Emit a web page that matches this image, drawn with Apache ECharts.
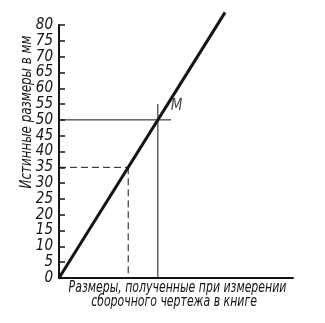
<!DOCTYPE html>
<html>
<head>
<meta charset="utf-8">
<script src="https://cdn.jsdelivr.net/npm/echarts@6/dist/echarts.min.js"></script>
<style>
  html, body { margin: 0; padding: 0; background: #fff; }
  #chart { width: 325px; height: 323px; }
</style>
</head>
<body>
<div id="chart"></div>
<script>
// True size (mm) against size measured on the assembly drawing
const yMin = 0;
const yMax = 80;
const yStep = 5;
const xMax = 71;

const mainLine = [[0, 0], [50.4, 84]];
const pointM = [[30, 50]];
const guideH = [[0, 50], [34, 50]];
const guideV = [[30, 0], [30, 55]];
const dashH = [[0, 35], [21, 35]];
const dashV = [[21, 35], [21, 0]];

const yTitle = 'Истинные размеры в мм';
const xTitle1 = 'Размеры, полученные при измерении';
const xTitle2 = 'сборочного чертежа в книге';
const pointLabel = 'M';

const FONT = '"Liberation Sans Narrow", "DejaVu Sans Condensed", sans-serif';
const INK = '#141414';

const chart = echarts.init(document.getElementById('chart'), null, { renderer: 'canvas' });

function seg(data, width, type) {
  return {
    type: 'line', data: data, symbol: 'none', clip: false, silent: true,
    lineStyle: { color: INK, width: width, type: type || 'solid' }
  };
}

function caption(text, x, y, rotation, scaleX) {
  return {
    type: 'text', x: x, y: y, rotation: rotation, scaleX: scaleX, scaleY: 1,
    style: {
      text: text, fill: INK, font: 'italic 15px ' + FONT,
      textAlign: 'center', textVerticalAlign: 'middle'
    }
  };
}

chart.setOption({
  animation: false,
  backgroundColor: '#fff',
  grid: { left: 59, right: 32, top: 25, bottom: 45 },
  xAxis: {
    type: 'value', min: 0, max: xMax,
    axisLine: { show: true, lineStyle: { color: INK, width: 2 } },
    axisTick: { show: false }, axisLabel: { show: false }, splitLine: { show: false }
  },
  yAxis: {
    type: 'value', min: yMin, max: yMax, interval: yStep,
    axisLine: { show: true, lineStyle: { color: INK, width: 2 } },
    axisTick: { show: true, inside: true, length: 6, lineStyle: { color: INK, width: 1.5 } },
    axisLabel: {
      color: INK, fontFamily: FONT, fontStyle: 'italic', fontSize: 15, margin: 6
    },
    splitLine: { show: false }
  },
  series: [
    seg(guideH, 1),
    seg(guideV, 1),
    seg(dashH, 1, [7, 4]),
    seg(dashV, 1, [7, 4]),
    seg(mainLine, 3),
    {
      type: 'scatter', data: pointM, symbolSize: 0, silent: true,
      label: {
        show: true, formatter: pointLabel, position: 'right', offset: [8, -14],
        color: INK, fontFamily: FONT, fontStyle: 'italic', fontSize: 15
      }
    }
  ],
  graphic: [
    caption(yTitle, 27.5, 112, Math.PI / 2, 0.88),
    caption(xTitle1, 177.5, 288, 0, 0.81),
    caption(xTitle2, 174, 302, 0, 0.81)
  ]
});
</script>
</body>
</html>
